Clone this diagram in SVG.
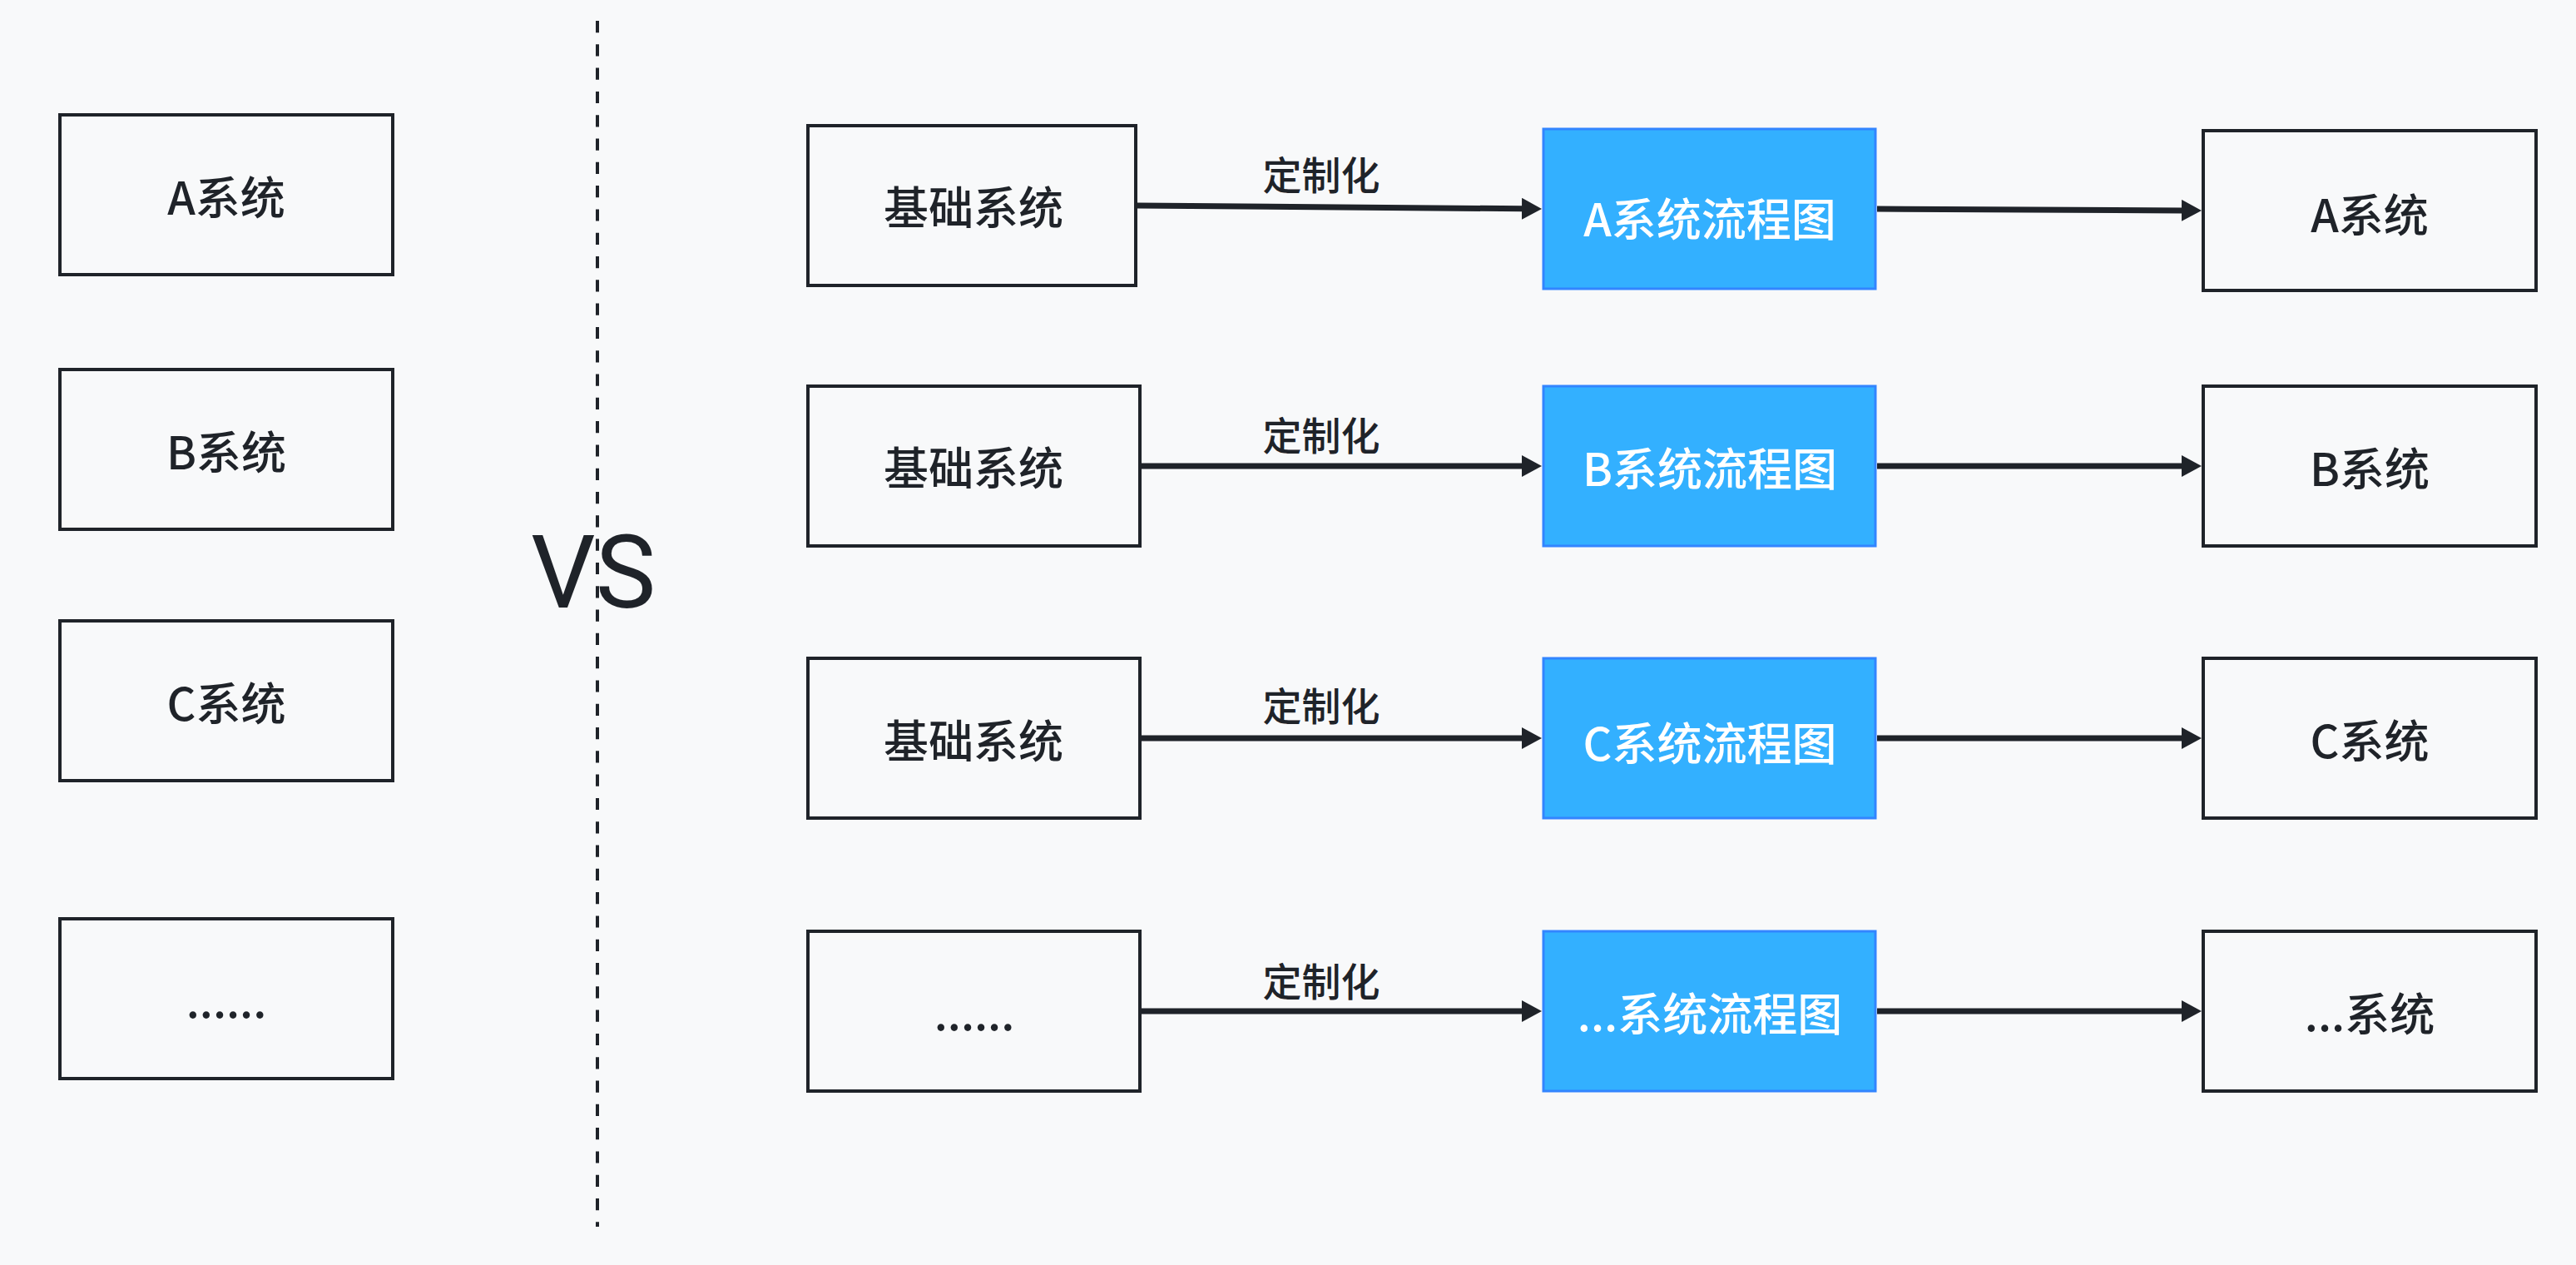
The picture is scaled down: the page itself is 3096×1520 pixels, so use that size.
<svg xmlns="http://www.w3.org/2000/svg" width="3096" height="1520" viewBox="0 0 3096 1520">
  <style>
    .box { fill: #F8F9FA; stroke: #1F2329; stroke-width: 4; }
    .flow { fill: #33B0FF; stroke: #3385FF; stroke-width: 3; }
    .t { font-family: "Noto Sans CJK SC", "Noto Sans", sans-serif; font-size: 54px; font-weight: 500; fill: #1F2329; text-anchor: middle; }
    .tw { fill: #FFFFFF; }
    .lbl { font-family: "Noto Sans CJK SC", "Noto Sans", sans-serif; font-size: 47px; font-weight: 500; fill: #1F2329; text-anchor: middle; }
    .edge { fill: none; stroke: #1F2329; stroke-width: 7; }
    .divider { fill: none; stroke: #1F2329; stroke-width: 4; stroke-dasharray: 14.2 14.1; }
  </style>
  <defs>
    <marker id="arrow" viewBox="0 0 24 26" refX="2" refY="13" markerWidth="24" markerHeight="26" markerUnits="userSpaceOnUse" orient="auto">
      <path d="M0,0 L24,13 L0,26 z" fill="#1F2329"/>
    </marker>
  </defs>

  <rect width="3096" height="1520" fill="#F8F9FA"/>

  <!-- divider and VS -->
  <line class="divider" x1="718" y1="25" x2="718" y2="1474"/>
  <text x="638" y="730" font-family="Roboto, 'Liberation Sans', sans-serif" font-size="122" fill="#1F2329">VS</text>

  <!-- left column: separate systems -->
  <g id="sysA-left"><rect class="box" x="72" y="138" width="400" height="192"/><text class="t" x="272" y="258">A系统</text></g>
  <g id="sysB-left"><rect class="box" x="72" y="444" width="400" height="192"/><text class="t" x="272" y="564">B系统</text></g>
  <g id="sysC-left"><rect class="box" x="72" y="746" width="400" height="192"/><text class="t" x="272" y="866">C系统</text></g>
  <g id="sysEtc-left"><rect class="box" x="72" y="1104" width="400" height="192"/><text class="t" x="272" y="1223">......</text></g>

  <!-- right: base systems -->
  <g id="base1"><rect class="box" x="971" y="151" width="394" height="192"/><text class="t" x="1170" y="270">基础系统</text></g>
  <g id="base2"><rect class="box" x="971" y="464" width="399" height="192"/><text class="t" x="1170" y="583">基础系统</text></g>
  <g id="base3"><rect class="box" x="971" y="791" width="399" height="192"/><text class="t" x="1170" y="911">基础系统</text></g>
  <g id="base4"><rect class="box" x="971" y="1119" width="399" height="192"/><text class="t" x="1171" y="1238">......</text></g>

  <!-- right: flow charts -->
  <g id="flowA"><rect class="flow" x="1855" y="155" width="399" height="192"/><text class="t tw" x="2055" y="284">A系统流程图</text></g>
  <g id="flowB"><rect class="flow" x="1855" y="464" width="399" height="192"/><text class="t tw" x="2055" y="584">B系统流程图</text></g>
  <g id="flowC"><rect class="flow" x="1855" y="791" width="399" height="192"/><text class="t tw" x="2055" y="914">C系统流程图</text></g>
  <g id="flowEtc"><rect class="flow" x="1855" y="1119" width="399" height="192"/><text class="t tw" x="2055" y="1239">...系统流程图</text></g>

  <!-- right: resulting systems -->
  <g id="sysA"><rect class="box" x="2648" y="157" width="400" height="192"/><text class="t" x="2848" y="279">A系统</text></g>
  <g id="sysB"><rect class="box" x="2648" y="464" width="400" height="192"/><text class="t" x="2848" y="584">B系统</text></g>
  <g id="sysC"><rect class="box" x="2648" y="791" width="400" height="192"/><text class="t" x="2848" y="911">C系统</text></g>
  <g id="sysEtc"><rect class="box" x="2648" y="1119" width="400" height="192"/><text class="t" x="2848" y="1239">...系统</text></g>

  <!-- connectors -->
  <g id="connectors">
    <path class="edge" d="M1367,247 L1831,250.8" marker-end="url(#arrow)"/>
    <path class="edge" d="M2256,251 L2624,252.9" marker-end="url(#arrow)"/>
    <path class="edge" d="M1372,560 L1831,560" marker-end="url(#arrow)"/>
    <path class="edge" d="M2256,560 L2624,560" marker-end="url(#arrow)"/>
    <path class="edge" d="M1372,887 L1831,887" marker-end="url(#arrow)"/>
    <path class="edge" d="M2256,887 L2624,887" marker-end="url(#arrow)"/>
    <path class="edge" d="M1372,1215 L1831,1215" marker-end="url(#arrow)"/>
    <path class="edge" d="M2256,1215 L2624,1215" marker-end="url(#arrow)"/>
    <text class="lbl" x="1588" y="228">定制化</text>
    <text class="lbl" x="1588" y="541">定制化</text>
    <text class="lbl" x="1588" y="866">定制化</text>
    <text class="lbl" x="1588" y="1197">定制化</text>
  </g>
</svg>
